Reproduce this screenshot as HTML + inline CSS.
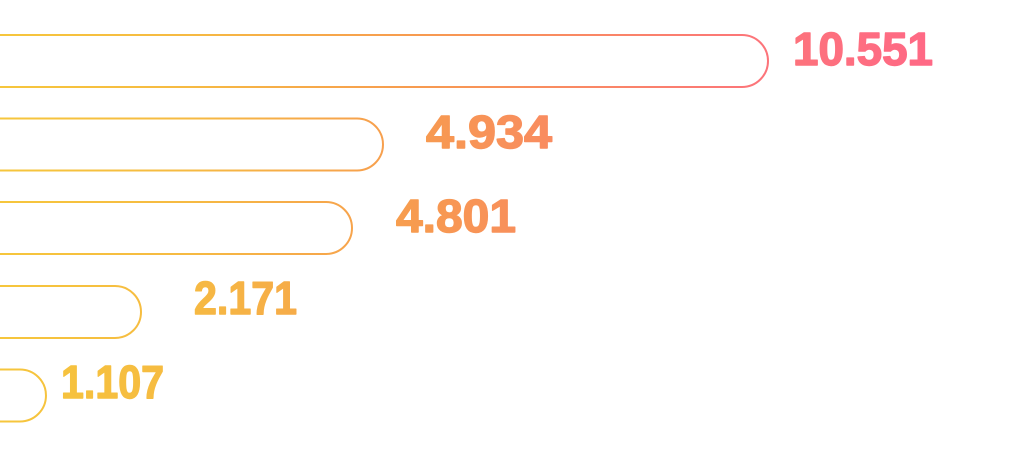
<!DOCTYPE html>
<html><head><meta charset="utf-8"><style>
html,body{margin:0;padding:0;background:#fff;width:1024px;height:450px;overflow:hidden}
svg{display:block}
text{font-family:"Liberation Sans",sans-serif;font-weight:bold;font-size:46px}
</style></head><body>
<svg width="1024" height="450" viewBox="0 0 1024 450">
<defs>
<linearGradient id="g" gradientUnits="userSpaceOnUse" x1="0" y1="0" x2="940" y2="0">
<stop offset="0" stop-color="#f6c63c"/>
<stop offset="0.2" stop-color="#f6ba42"/>
<stop offset="0.45" stop-color="#f79a50"/>
<stop offset="0.8" stop-color="#fc7579"/>
<stop offset="1" stop-color="#ff6886"/>
</linearGradient>
</defs>
<g fill="none" stroke="url(#g)" stroke-width="2">
<path d="M-10 35 H742 A26 26 0 0 1 742 87 H-10"/>
<path d="M-10 118.5 H357 A26 26 0 0 1 357 170.5 H-10"/>
<path d="M-10 202 H326 A26 26 0 0 1 326 254 H-10"/>
<path d="M-10 286 H115 A26 26 0 0 1 115 338 H-10"/>
<path d="M-10 369.5 H20 A26 26 0 0 1 20 421.5 H-10"/>
</g>
<g fill="url(#g)" stroke="url(#g)" stroke-width="1.4" stroke-linejoin="round">
<text x="793" y="65" textLength="140" lengthAdjust="spacingAndGlyphs">10.551</text>
<text x="426" y="148" textLength="126" lengthAdjust="spacingAndGlyphs">4.934</text>
<text x="396" y="232" textLength="120" lengthAdjust="spacingAndGlyphs">4.801</text>
<text x="194" y="314" textLength="103" lengthAdjust="spacingAndGlyphs">2.171</text>
<text x="61" y="398" textLength="103" lengthAdjust="spacingAndGlyphs">1.107</text>
</g>
</svg>
</body></html>
